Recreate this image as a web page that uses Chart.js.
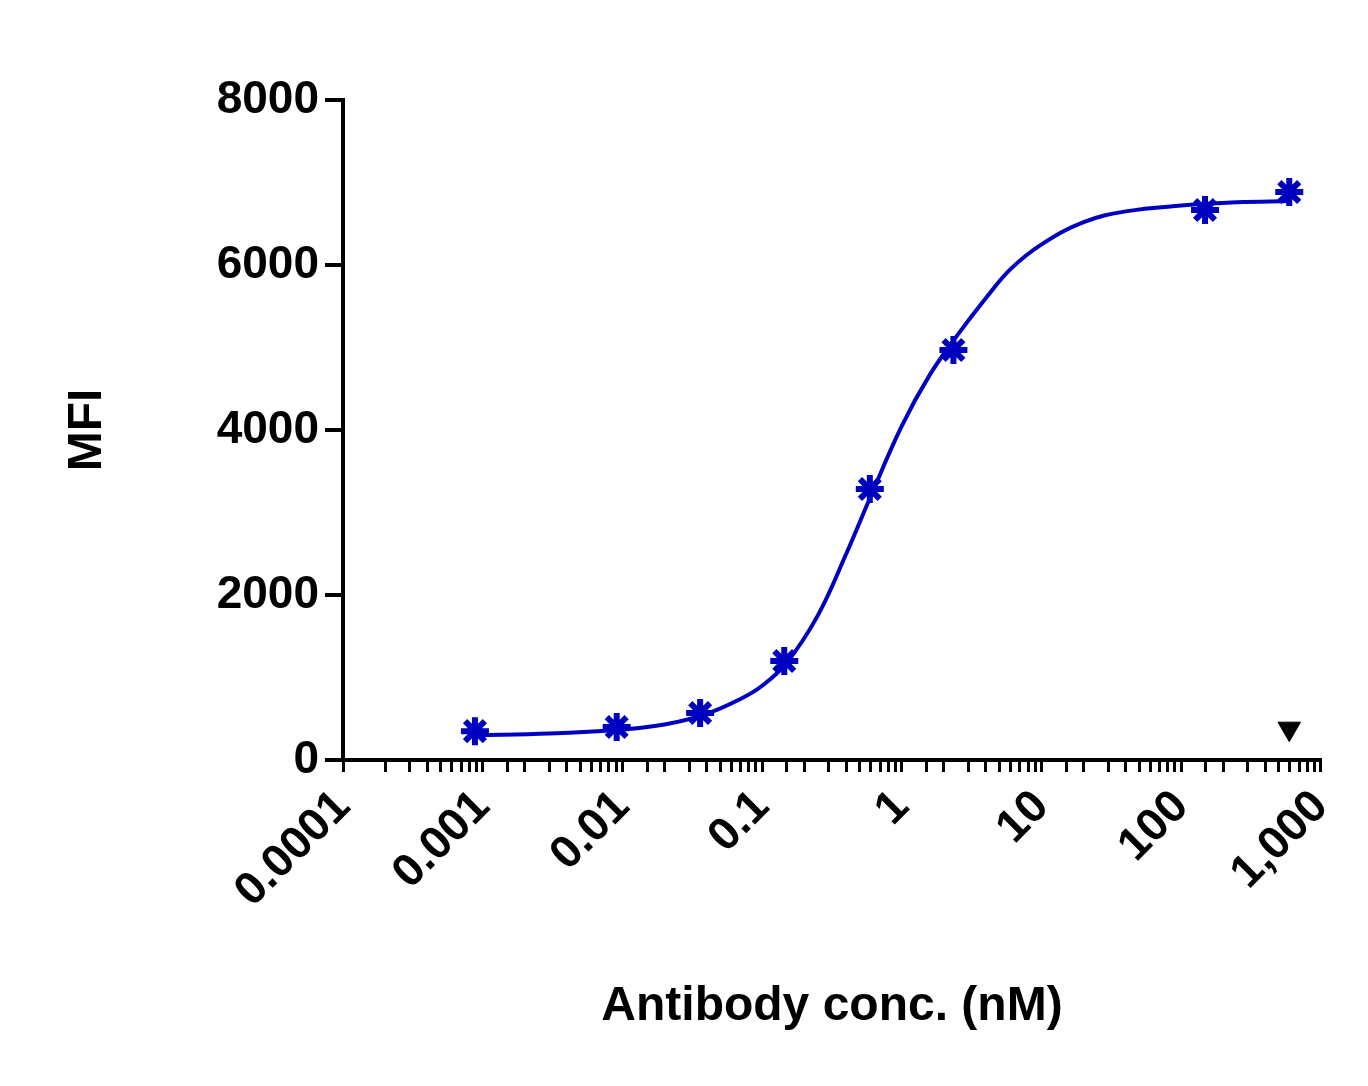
<!DOCTYPE html>
<html>
<head>
<meta charset="utf-8">
<script src="https://cdn.jsdelivr.net/npm/chart.js@4.4.0/dist/chart.umd.min.js"></script>
<style>
  body { margin: 0; background: #fff; }
  #wrap { width: 1368px; height: 1086px; }
</style>
</head>
<body>
<div id="wrap"><canvas id="c"></canvas></div>
<script>
// measured points
const concs = [0.00088, 0.0091, 0.036, 0.144, 0.59, 2.34, 148, 593];
const mfi = [350, 400, 570, 1200, 3285, 4970, 6667, 6885];

// fitted curve
const curveX = [0.00088, 0.003, 0.01, 0.02, 0.04, 0.07, 0.1, 0.15, 0.25, 0.4, 0.6, 1, 1.6, 2.5, 4, 6, 10, 20, 40, 100, 250, 600];
const curveY = [300, 320, 370, 430, 560, 740, 900, 1180, 1750, 2500, 3200, 4050, 4680, 5150, 5600, 5950, 6250, 6520, 6650, 6720, 6760, 6775];

// control (black)
const ctrlX = [593];
const ctrlY = [380];

const font = { family: 'Liberation Sans, Arial, sans-serif', weight: 'bold' };

new Chart(document.getElementById('c'), {
    type: 'scatter',
    data: {
        datasets: [
            {
                label: 'fit',
                data: curveX.map((x, i) => ({ x: x, y: curveY[i] })),
                showLine: true,
                borderColor: '#0000c0',
                borderWidth: 4,
                pointRadius: 0,
                tension: 0.4
            },
            {
                label: 'Antibody',
                data: concs.map((x, i) => ({ x: x, y: mfi[i] })),
                pointStyle: 'star',
                pointRadius: 14,
                borderWidth: 6,
                borderColor: '#0000c0',
                backgroundColor: '#0000c0'
            },
            {
                label: 'Control',
                data: ctrlX.map((x, i) => ({ x: x, y: ctrlY[i] })),
                pointStyle: 'triangle',
                rotation: 180,
                pointRadius: 13,
                borderColor: '#000',
                backgroundColor: '#000'
            }
        ]
    },
    options: {
        responsive: true,
        maintainAspectRatio: false,
        animation: false,
        layout: { padding: { top: 100, right: 35, left: 55, bottom: 0 } },
        plugins: { legend: { display: false }, tooltip: { enabled: false } },
        scales: {
            x: {
                type: 'logarithmic',
                min: 0.0001,
                max: 1000,
                afterFit: s => { s.height = 326; },
                border: { color: '#000', width: 4 },
                grid: { drawOnChartArea: false, color: '#000', tickLength: 12, lineWidth: 3 },
                ticks: {
                    autoSkip: false,
                    maxRotation: 45,
                    minRotation: 45,
                    color: '#000',
                    padding: 8,
                    font: { ...font, size: 46 },
                    callback: v => {
                        const l = Math.log10(v);
                        if (Math.abs(l - Math.round(l)) > 1e-6) return '';
                        return v >= 1000 ? v.toLocaleString('en-US') : String(v);
                    }
                },
                title: {
                    display: true,
                    text: 'Antibody conc. (nM)',
                    color: '#000',
                    font: { ...font, size: 48 },
                    padding: { top: 10, bottom: 50 }
                }
            },
            y: {
                min: 0,
                max: 8000,
                afterFit: s => { s.width = 288; },
                border: { color: '#000', width: 4 },
                grid: { drawOnChartArea: false, color: '#000', tickLength: 18, lineWidth: 4 },
                ticks: {
                    stepSize: 2000,
                    color: '#000',
                    padding: 6,
                    font: { ...font, size: 46 },
                    callback: v => String(v)
                },
                title: {
                    display: true,
                    text: 'MFI',
                    color: '#000',
                    font: { ...font, size: 48 },
                    padding: { bottom: 10 }
                }
            }
        }
    }
});
</script>
</body>
</html>
